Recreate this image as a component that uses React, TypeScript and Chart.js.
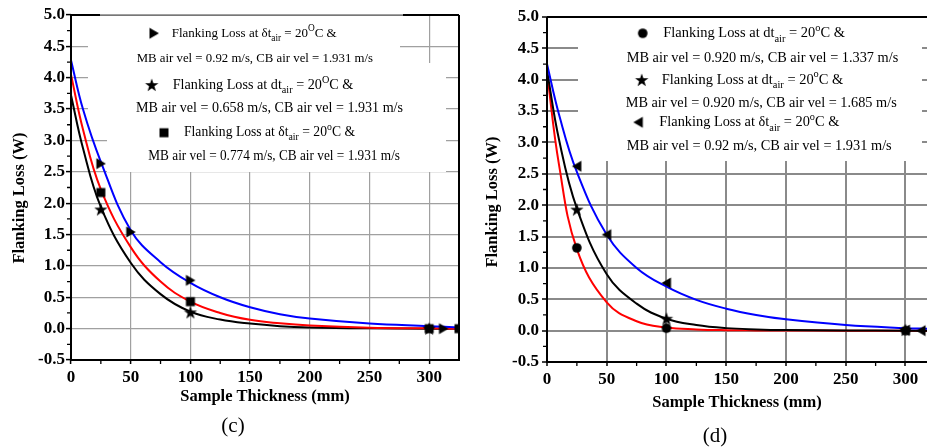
import React, { useEffect, useRef } from "react";
import { Chart, registerables } from "chart.js";
Chart.register(...registerables);

const SERIF = '"Liberation Serif", "Times New Roman", Times, serif';

// ---------------- shared axis texts / ticks ----------------
const yAxisTitle = "Flanking Loss (W)";
const xAxisTitle = "Sample Thickness (mm)";
const xMajorTicks = [0, 50, 100, 150, 200, 250, 300];
const xMinorTicks = [25, 75, 125, 175, 225, 275];
const yMajorTicks = [-0.5, 0, 0.5, 1, 1.5, 2, 2.5, 3, 3.5, 4, 4.5, 5];
const yMinorTicks = [-0.25, 0.25, 0.75, 1.25, 1.75, 2.25, 2.75, 3.25, 3.75, 4.25, 4.75];

// ---------------- panel (c) data ----------------
const cFitThickness = [0, 10, 25, 50, 75, 100, 125, 150, 175, 200, 250, 300, 325];
const cBlueFit = [4.28, 3.5, 2.66, 1.57, 1.06, 0.73, 0.5, 0.34, 0.23, 0.16, 0.08, 0.04, 0.02];
const cRedFit = [4.05, 3.18, 2.22, 1.3, 0.75, 0.43, 0.25, 0.14, 0.085, 0.05, 0.015, 0.005, 0.0];
const cBlackFit = [3.72, 2.88, 1.94, 1.05, 0.55, 0.27, 0.145, 0.08, 0.04, 0.02, 0.005, 0.0, 0.0];
const cTriThickness = [25, 50, 100, 312];
const cTriLoss = [2.63, 1.54, 0.77, 0.0];
const cStarThickness = [25, 100, 300];
const cStarLoss = [1.9, 0.26, 0.0];
const cSquareThickness = [25, 100, 300, 325];
const cSquareLoss = [2.17, 0.43, 0.0, 0.0];
const cLegendText = [
  ["Flanking Loss at δt_{air} = 20^{O}C &", "MB air vel = 0.92 m/s, CB air vel = 1.931 m/s"],
  ["Flanking Loss at dt_{air} = 20^{O}C &", "MB air vel = 0.658 m/s, CB air vel = 1.931 m/s"],
  ["Flanking Loss at δt_{air} = 20^{o}C &", "MB air vel = 0.774 m/s, CB air vel = 1.931 m/s"],
];
const cCaption = "(c)";

// ---------------- panel (d) data ----------------
const dFitThickness = [0, 10, 25, 50, 75, 100, 125, 150, 175, 200, 250, 300, 318];
const dBlueFit = [4.25, 3.45, 2.53, 1.53, 1.0, 0.7, 0.49, 0.35, 0.25, 0.18, 0.09, 0.04, 0.03];
const dBlackFit = [4.15, 3.05, 1.95, 0.9, 0.43, 0.19, 0.09, 0.04, 0.02, 0.01, 0.003, 0.0, 0.0];
const dRedFit = [4.12, 2.65, 1.3, 0.45, 0.15, 0.05, 0.02, 0.008, 0.004, 0.002, 0.0, 0.0, 0.0];
const dCircleThickness = [25, 100, 300];
const dCircleLoss = [1.32, 0.04, 0.0];
const dStarThickness = [25, 100, 300];
const dStarLoss = [1.93, 0.19, 0.01];
const dTriThickness = [25, 50, 100, 300, 313];
const dTriLoss = [2.62, 1.53, 0.76, 0.01, 0.0];
const dLegendText = [
  ["Flanking Loss at dt_{air} = 20^{o}C &", "MB air vel = 0.920 m/s, CB air vel = 1.337 m/s"],
  ["Flanking Loss at dt_{air} = 20^{o}C &", "MB air vel = 0.920 m/s, CB air vel = 1.685 m/s"],
  ["Flanking Loss at δt_{air} = 20^{o}C &", "MB air vel = 0.92 m/s, CB air vel = 1.931 m/s"],
];
const dCaption = "(d)";

// ---------------- helpers ----------------
function makeMarker(kind: string): HTMLCanvasElement {
  const s = 16;
  const c = document.createElement("canvas");
  c.width = s;
  c.height = s;
  const g = c.getContext("2d")!;
  const m = s / 2;
  g.fillStyle = "#000";
  g.beginPath();
  if (kind === "triRight") {
    g.moveTo(m - 4.5, m - 5.5);
    g.lineTo(m + 5, m);
    g.lineTo(m - 4.5, m + 5.5);
  } else if (kind === "triLeft") {
    g.moveTo(m + 4.5, m - 5.5);
    g.lineTo(m - 5, m);
    g.lineTo(m + 4.5, m + 5.5);
  } else if (kind === "square") {
    g.rect(m - 4.5, m - 4.5, 9, 9);
  } else if (kind === "circle") {
    g.arc(m, m, 4.8, 0, Math.PI * 2);
  } else {
    for (let i = 0; i < 10; i++) {
      const r = i % 2 ? 2.8 : 7;
      const a = -Math.PI / 2 + (i * Math.PI) / 5;
      const px = m + r * Math.cos(a);
      const py = m + 0.5 + r * Math.sin(a);
      if (i === 0) g.moveTo(px, py);
      else g.lineTo(px, py);
    }
  }
  g.closePath();
  g.fill();
  return c;
}

type Seg = { t: string; mode: "n" | "sub" | "sup" };
function parseRich(s: string): Seg[] {
  const out: Seg[] = [];
  const re = /(_\{[^}]*\}|\^\{[^}]*\})/g;
  let last = 0;
  let m: RegExpExecArray | null;
  while ((m = re.exec(s))) {
    if (m.index > last) out.push({ t: s.slice(last, m.index), mode: "n" });
    out.push({ t: m[0].slice(2, -1), mode: m[0][0] === "_" ? "sub" : "sup" });
    last = m.index + m[0].length;
  }
  if (last < s.length) out.push({ t: s.slice(last), mode: "n" });
  return out;
}

function drawRich(ctx: CanvasRenderingContext2D, s: string, x1: number, x2: number, y: number, size: number) {
  const segs = parseRich(s);
  const fontFor = (seg: Seg) => `${seg.mode === "n" ? size : size * 0.72}px ${SERIF}`;
  let total = 0;
  const widths = segs.map((seg) => {
    ctx.font = fontFor(seg);
    const w = ctx.measureText(seg.t).width;
    total += w;
    return w;
  });
  const sx = (x2 - x1) / total;
  ctx.save();
  ctx.translate(x1, y);
  ctx.scale(sx, 1);
  ctx.textBaseline = "middle";
  ctx.textAlign = "left";
  ctx.fillStyle = "#000";
  let cx = 0;
  segs.forEach((seg, i) => {
    ctx.font = fontFor(seg);
    const dy = seg.mode === "sub" ? size * 0.36 : seg.mode === "sup" ? -size * 0.36 : 0;
    ctx.fillText(seg.t, cx, dy);
    cx += widths[i];
  });
  ctx.restore();
}

const pts = (xs: number[], ys: number[]) => xs.map((x, i) => ({ x, y: ys[i] }));

type PanelCfg = {
  left: number;
  width: number;
  xMax: number;
  plotLeft: number;
  plotTop: number;
  plotBottom: number;
  padRight: number;
  gridColor: string;
  gridWidth: number;
  yLabelPad: number;
  xLabelPad: number;
  xTitleY: number;
  yTitleX: number;
  yTitleY: number;
  boxes: number[][];
  topGap: number[] | null;
  drawRight: boolean;
  legendSizes: number[];
  legend: { marker: string; mx: number; my: number; lines: number[][] }[];
  legendText: string[][];
  caption: string;
  captionX: number;
  captionY: number;
  datasets: any[];
};

function lineDs(data: { x: number; y: number }[], color: string) {
  return {
    data,
    showLine: true,
    borderColor: color,
    backgroundColor: color,
    borderWidth: 2,
    pointRadius: 0,
    tension: 0.4,
  };
}
function markDs(data: { x: number; y: number }[], img: HTMLCanvasElement) {
  return {
    data,
    showLine: false,
    pointStyle: img,
    pointRadius: 5,
    borderColor: "#000",
    backgroundColor: "#000",
  };
}

function Panel({ cfg }: { cfg: PanelCfg }) {
  const ref = useRef<HTMLCanvasElement>(null);
  useEffect(() => {
    const canvas = ref.current!;
    const markers: Record<string, HTMLCanvasElement> = {};
    ["triRight", "triLeft", "square", "circle", "star"].forEach((k) => (markers[k] = makeMarker(k)));
    const L = cfg.left;
    const decor = {
      id: "decor",
      beforeDatasetsDraw(chart: any) {
        const ctx = chart.ctx;
        ctx.save();
        ctx.fillStyle = "#fff";
        cfg.boxes.forEach((b) => ctx.fillRect(b[0] - L, b[1], b[2] - b[0], b[3] - b[1]));
        ctx.restore();
      },
      afterDraw(chart: any) {
        const ctx = chart.ctx;
        const a = chart.chartArea;
        const xs = chart.scales.x;
        const ys = chart.scales.y;
        ctx.save();
        // minor ticks
        ctx.strokeStyle = "#000";
        ctx.lineWidth = 1.3;
        ctx.beginPath();
        xMinorTicks.forEach((v) => {
          if (v > cfg.xMax) return;
          const px = xs.getPixelForValue(v);
          ctx.moveTo(px, a.bottom);
          ctx.lineTo(px, a.bottom + 4);
        });
        yMinorTicks.forEach((v) => {
          const py = ys.getPixelForValue(v);
          ctx.moveTo(a.left - 4, py);
          ctx.lineTo(a.left, py);
        });
        ctx.stroke();
        // frame
        ctx.lineWidth = 2;
        ctx.beginPath();
        ctx.moveTo(a.left, a.top);
        ctx.lineTo(a.left, a.bottom);
        ctx.lineTo(a.right, a.bottom);
        if (cfg.drawRight) ctx.lineTo(a.right, a.top);
        ctx.stroke();
        if (cfg.topGap) {
          ctx.beginPath();
          ctx.moveTo(a.left, a.top);
          ctx.lineTo(cfg.topGap[0] - L, a.top);
          ctx.moveTo(cfg.topGap[1] - L, a.top);
          ctx.lineTo(a.right, a.top);
          ctx.stroke();
          ctx.strokeStyle = "#777";
          ctx.lineWidth = 1;
          ctx.beginPath();
          ctx.moveTo(cfg.topGap[0] - L, a.top + 0.5);
          ctx.lineTo(cfg.topGap[1] - L, a.top + 0.5);
          ctx.stroke();
        } else {
          ctx.beginPath();
          ctx.moveTo(a.left, a.top);
          ctx.lineTo(a.right, a.top);
          ctx.stroke();
        }
        // y title
        ctx.fillStyle = "#000";
        ctx.font = `bold 16.5px ${SERIF}`;
        ctx.textAlign = "center";
        ctx.textBaseline = "middle";
        ctx.translate(cfg.yTitleX - L, cfg.yTitleY);
        ctx.rotate(-Math.PI / 2);
        ctx.fillText(yAxisTitle, 0, 0);
        ctx.restore();
        // legend
        cfg.legend.forEach((e, i) => {
          const img = markers[e.marker];
          ctx.drawImage(img, e.mx - L - img.width / 2, e.my - img.height / 2);
          e.lines.forEach((ln, j) => drawRich(ctx, cfg.legendText[i][j], ln[0] - L, ln[1] - L, ln[2], cfg.legendSizes[i]));
        });
      },
    };
    const datasets = cfg.datasets.map((d: any) =>
      d.kind === "line" ? lineDs(d.data, d.color) : markDs(d.data, markers[d.marker])
    );
    const chart = new Chart(canvas, {
      type: "scatter",
      data: { datasets },
      options: {
        responsive: false,
        animation: false,
        events: [],
        layout: { padding: { left: 0, top: cfg.plotTop, right: cfg.padRight, bottom: 0 } },
        plugins: { legend: { display: false }, tooltip: { enabled: false } },
        scales: {
          x: {
            type: "linear",
            min: 0,
            max: cfg.xMax,
            afterBuildTicks: (s: any) => {
              s.ticks = xMajorTicks.map((v) => ({ value: v }));
            },
            afterFit: (s: any) => {
              s.height = 448 - cfg.plotBottom;
            },
            ticks: {
              autoSkip: false,
              maxRotation: 0,
              padding: cfg.xLabelPad,
              color: "#000",
              font: { family: SERIF, size: 17, weight: "bold" },
              callback: (v: any) => String(v),
            },
            grid: {
              color: cfg.gridColor,
              lineWidth: cfg.gridWidth,
              drawTicks: true,
              tickLength: 4,
              tickColor: "#000",
              tickWidth: 1.5,
            },
            border: { display: false },
            title: {
              display: true,
              text: xAxisTitle,
              color: "#000",
              font: { family: SERIF, size: 16.5, weight: "bold" },
              padding: { top: 0, bottom: 448 - cfg.xTitleY - 9.9 },
            },
          },
          y: {
            type: "linear",
            min: -0.5,
            max: 5,
            afterBuildTicks: (s: any) => {
              s.ticks = yMajorTicks.map((v) => ({ value: v }));
            },
            afterFit: (s: any) => {
              s.width = cfg.plotLeft - cfg.left;
            },
            ticks: {
              autoSkip: false,
              padding: cfg.yLabelPad,
              color: "#000",
              font: { family: SERIF, size: 17, weight: "bold" },
              callback: (v: any) => Number(v).toFixed(1),
            },
            grid: {
              color: cfg.gridColor,
              lineWidth: cfg.gridWidth,
              drawTicks: true,
              tickLength: 5,
              tickColor: "#000",
              tickWidth: 1.5,
            },
            border: { display: false },
          },
        },
      } as any,
      plugins: [decor],
    });
    return () => chart.destroy();
  }, [cfg]);
  return (
    <>
      <canvas
        ref={ref}
        width={cfg.width}
        height={448}
        style={{ position: "absolute", left: cfg.left, top: 0, width: cfg.width, height: 448 }}
      />
      <div
        style={{
          position: "absolute",
          left: cfg.captionX - 30,
          width: 60,
          top: cfg.captionY - 13,
          height: 26,
          lineHeight: "26px",
          textAlign: "center",
          fontFamily: SERIF,
          fontSize: 21,
          color: "#000",
        }}
      >
        {cfg.caption}
      </div>
    </>
  );
}

const panelC: PanelCfg = {
  left: 0,
  width: 466,
  xMax: 325,
  plotLeft: 71,
  plotTop: 15,
  plotBottom: 360,
  padRight: 7,
  gridColor: "#a0a0a0",
  gridWidth: 1.2,
  yLabelPad: 1,
  xLabelPad: 3,
  xTitleY: 397,
  yTitleX: 20,
  yTitleY: 198,
  boxes: [
    [88, 16, 400, 63],
    [88, 63, 446, 125],
    [107, 125, 446, 172],
  ],
  topGap: [100, 403],
  drawRight: true,
  legendSizes: [13.5, 14.5, 14],
  legend: [
    { marker: "triRight", mx: 154, my: 33.3, lines: [[171.7, 336.7, 33.3], [136.7, 373, 58.3]] },
    { marker: "star", mx: 151.7, my: 85, lines: [[172.7, 353.3, 85], [136, 403, 108.3]] },
    { marker: "square", mx: 164, my: 132.7, lines: [[184, 355, 132.7], [148.3, 400, 156]] },
  ],
  legendText: cLegendText,
  caption: cCaption,
  captionX: 233,
  captionY: 425,
  datasets: [
    { kind: "mark", marker: "triRight", data: pts(cTriThickness, cTriLoss) },
    { kind: "mark", marker: "star", data: pts(cStarThickness, cStarLoss) },
    { kind: "mark", marker: "square", data: pts(cSquareThickness, cSquareLoss) },
    { kind: "line", color: "#0000ff", data: pts(cFitThickness, cBlueFit) },
    { kind: "line", color: "#ff0000", data: pts(cFitThickness, cRedFit) },
    { kind: "line", color: "#000000", data: pts(cFitThickness, cBlackFit) },
  ],
};

const panelD: PanelCfg = {
  left: 470,
  width: 463,
  xMax: 318,
  plotLeft: 547,
  plotTop: 17,
  plotBottom: 362,
  padRight: 0,
  gridColor: "#8a8a8a",
  gridWidth: 2,
  yLabelPad: 3,
  xLabelPad: 3,
  xTitleY: 403,
  yTitleX: 493,
  yTitleY: 202,
  boxes: [
    [578, 18, 922, 125],
    [556, 125, 922, 161],
  ],
  topGap: null,
  drawRight: false,
  legendSizes: [15, 15, 15],
  legend: [
    { marker: "circle", mx: 642.7, my: 33.3, lines: [[663.3, 845, 33.3], [626.7, 898.3, 58.3]] },
    { marker: "star", mx: 641.7, my: 80, lines: [[661.7, 843.3, 80], [625.7, 896.7, 103.3]] },
    { marker: "triLeft", mx: 638.3, my: 122.3, lines: [[659.3, 839.3, 122.3], [626.7, 891.7, 145.7]] },
  ],
  legendText: dLegendText,
  caption: dCaption,
  captionX: 715,
  captionY: 435,
  datasets: [
    { kind: "mark", marker: "circle", data: pts(dCircleThickness, dCircleLoss) },
    { kind: "mark", marker: "star", data: pts(dStarThickness, dStarLoss) },
    { kind: "mark", marker: "triLeft", data: pts(dTriThickness, dTriLoss) },
    { kind: "line", color: "#0000ff", data: pts(dFitThickness, dBlueFit) },
    { kind: "line", color: "#000000", data: pts(dFitThickness, dBlackFit) },
    { kind: "line", color: "#ff0000", data: pts(dFitThickness, dRedFit) },
  ],
};

export default function App() {
  return (
    <div
      style={{
        position: "fixed",
        left: 0,
        top: 0,
        width: 933,
        height: 448,
        background: "#fff",
        overflow: "hidden",
      }}
    >
      <Panel cfg={panelC} />
      <Panel cfg={panelD} />
    </div>
  );
}
